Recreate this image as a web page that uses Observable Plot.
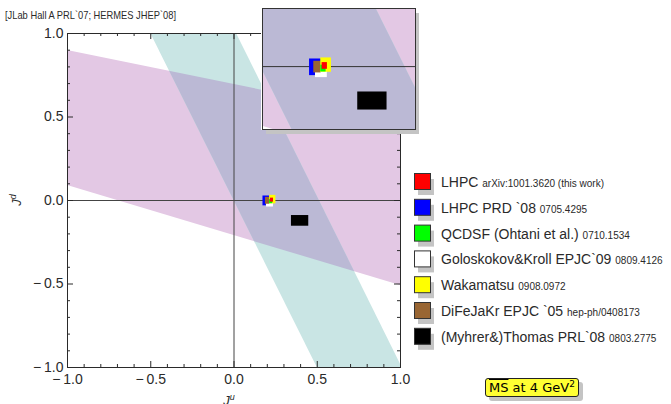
<!DOCTYPE html>
<html>
<head>
<meta charset="utf-8">
<script src="https://cdn.jsdelivr.net/npm/d3@7"></script>
<script src="https://cdn.jsdelivr.net/npm/@observablehq/plot@0.6"></script>
<style>
  body { margin: 0; background: #fff; }
  #chart { position: relative; width: 671px; height: 404px; overflow: hidden; background: #fff; }
  #chart > * { position: absolute; left: 0; top: 0; }
  #ms {
    font-family: "DejaVu Sans", sans-serif; font-size: 13px; line-height: 17px;
    background: #ffff33; border: 1px solid #222; border-radius: 3px;
    padding: 0 3px; box-shadow: 4px 4px 0 #c4c4c4; white-space: nowrap;
  }
  #ms sup { font-size: 9px; line-height: 0; }
</style>
</head>
<body>
<div id="chart"></div>
<script>
// Lattice and model results for total angular momentum of u and d quarks (MS-bar, 4 GeV^2)
const names = [
  "LHPC PRD `08", "Goloskokov&Kroll EPJC`09", "DiFeJaKr EPJC `05",
  "Wakamatsu", "QCDSF (Ohtani et al.)", "LHPC", "(Myhrer&)Thomas PRL`08"
];
const ju  = [0.202, 0.216, 0.202, 0.2327, 0.2232, 0.228, 0.397];
const dju = [0.028, 0.021, 0.013, 0.019, 0.0095, 0.0094, 0.052];
const jd  = [-0.0025, -0.017, -0.0018, 0.0053, -0.007, 0.0023, -0.122];
const djd = [0.0295, 0.022, 0.0206, 0.0255, 0.012, 0.0119, 0.032];
const fills = ["#0000ff", "#ffffff", "#996633", "#ffff00", "#00ff00", "#ff0000", "#000000"];

// Experimental constraint bands: JLab Hall A (shallow) and HERMES (steep)
const jlabJu = [-1, 1], jlabLo = [0.09, -0.509], jlabHi = [0.898, 0.491];
const hermesJd = [1, -1], hermesLo = [-0.5, 0.5], hermesHi = [0.015, 1.01];

// Legend entries, top to bottom
const legendMain = ["LHPC", "LHPC PRD `08", "QCDSF (Ohtani et al.)", "Goloskokov&Kroll EPJC`09",
                    "Wakamatsu", "DiFeJaKr EPJC `05", "(Myhrer&)Thomas PRL`08"];
const legendRef = ["arXiv:1001.3620 (this work)", "0705.4295", "0710.1534", "0809.4126",
                   "0908.0972", "hep-ph/0408173", "0803.2775"];
const legendFill = ["#ff0000", "#0000ff", "#00ff00", "#ffffff", "#ffff00", "#996633", "#000000"];

const majorTicks = [-1, -0.5, 0, 0.5, 1];
const minorTicks = [-0.9, -0.8, -0.7, -0.6, -0.4, -0.3, -0.2, -0.1, 0.1, 0.2, 0.3, 0.4, 0.6, 0.7, 0.8, 0.9];

const pink = "#e3c8e4", cyan = "#c9e5e4", both = "#bbb9d5";
const ink = "#2a2a2a";

const points = names.map((n, i) => ({name: n, ju: ju[i], dju: dju[i], jd: jd[i], djd: djd[i], fill: fills[i]}));
const jlab = jlabJu.map((x, i) => ({ju: x, lo: jlabLo[i], hi: jlabHi[i]}));
const hermes = hermesJd.map((y, i) => ({jd: y, lo: hermesLo[i], hi: hermesHi[i]}));

const fmt = d => (d < 0 ? "\u2212\u2009" : "") + Math.abs(d).toFixed(1);

function bandMarks() {
  return [
    Plot.areaY(jlab, {x: "ju", y1: "lo", y2: "hi", fill: pink, clip: true}),
    Plot.areaX(hermes, {y: "jd", x1: "lo", x2: "hi", fill: cyan, clip: true}),
    Plot.areaX(hermes, {y: "jd", x1: "lo", x2: "hi", fill: both, clip: true})
  ];
}
const rectMark = () => Plot.rect(points, {
  x1: d => d.ju - d.dju, x2: d => d.ju + d.dju,
  y1: d => d.jd - d.djd, y2: d => d.jd + d.djd,
  fill: "fill"
});

// The overlap of the two bands gets its own colour: clip the third area to the first one
function clipOverlap(svg, id) {
  const groups = svg.querySelectorAll('g[aria-label="area"]');
  const src = groups[0].querySelector("path");
  const dst = groups[2].querySelector("path");
  const ns = "http://www.w3.org/2000/svg";
  const defs = document.createElementNS(ns, "defs");
  const cp = document.createElementNS(ns, "clipPath");
  cp.setAttribute("id", id);
  const p = document.createElementNS(ns, "path");
  p.setAttribute("d", src.getAttribute("d"));
  cp.appendChild(p); defs.appendChild(cp); groups[0].appendChild(defs);
  dst.setAttribute("clip-path", `url(#${id})`);
}

const fl = 334, fh = 333; // frame height / width in px
const main = Plot.plot({
  width: 671, height: 404,
  marginLeft: 67, marginRight: 271, marginTop: 33, marginBottom: 37,
  style: {fontFamily: "'Liberation Sans', Arial, sans-serif", fontSize: "14px", color: ink, background: "transparent"},
  x: {domain: [-1, 1], ticks: majorTicks, tickSize: 0, tickPadding: 7, tickFormat: fmt, label: null},
  y: {domain: [-1, 1], ticks: majorTicks, tickSize: 0, tickPadding: 4, tickFormat: fmt, label: null},
  marks: [
    ...bandMarks(),
    Plot.ruleX([0], {stroke: "#444"}),
    Plot.ruleY([0], {stroke: "#444"}),
    // frame ticks pointing inward
    Plot.ruleX(majorTicks, {x: d => d, insetTop: fl - 6, stroke: ink}),
    Plot.ruleX(minorTicks, {x: d => d, insetTop: fl - 3, stroke: ink}),
    Plot.ruleX(majorTicks, {x: d => d, insetBottom: fl - 6, stroke: ink}),
    Plot.ruleX(minorTicks, {x: d => d, insetBottom: fl - 3, stroke: ink}),
    Plot.ruleY(majorTicks, {y: d => d, insetRight: fh - 6, stroke: ink}),
    Plot.ruleY(minorTicks, {y: d => d, insetRight: fh - 3, stroke: ink}),
    Plot.ruleY(majorTicks, {y: d => d, insetLeft: fh - 6, stroke: ink}),
    Plot.ruleY(minorTicks, {y: d => d, insetLeft: fh - 3, stroke: ink}),
    rectMark(),
    Plot.frame({stroke: ink})
  ]
});
clipOverlap(main, "overlap-main");

// Magnified view of the lattice cluster
const insetX = [0.007, 0.55], insetY = [-0.223, 0.206];
const inset = Plot.plot({
  width: 155, height: 123, margin: 1,
  style: {background: "#fff"},
  x: {domain: insetX, axis: null},
  y: {domain: insetY, axis: null},
  marks: [
    ...bandMarks(),
    Plot.ruleY([0], {stroke: "#333"}),
    rectMark(),
    Plot.frame({stroke: "#333"})
  ]
});
clipOverlap(inset, "overlap-inset");

const chart = document.getElementById("chart");
chart.appendChild(main);

const shadow = document.createElement("div");
Object.assign(shadow.style, {left: "266px", top: "13px", width: "153px", height: "121px", background: "#c4c4c4"});
chart.appendChild(shadow);
inset.style.left = "261px"; inset.style.top = "7px";
chart.appendChild(inset);

// Title, axis labels and legend
const over = d3.create("svg").attr("width", 671).attr("height", 404)
  .style("font-family", "'Liberation Sans', Arial, sans-serif").style("fill", ink);
over.append("text").attr("x", 5).attr("y", 19).attr("font-size", 11)
  .attr("textLength", 171).attr("lengthAdjust", "spacingAndGlyphs")
  .text("[JLab Hall A PRL`07; HERMES JHEP`08]");

const ju_ = over.append("text").attr("x", 229).attr("y", 405).attr("text-anchor", "middle")
  .attr("font-size", 13).attr("font-style", "italic");
ju_.append("tspan").text("J");
ju_.append("tspan").attr("dy", -5).attr("font-size", 9).text("u");

const jd_ = over.append("text").attr("transform", "translate(21,200) rotate(-90)")
  .attr("text-anchor", "middle").attr("font-size", 13).attr("font-style", "italic");
jd_.append("tspan").text("J");
jd_.append("tspan").attr("dy", -5).attr("font-size", 9).text("d");

const rowY = i => 182 + i * 25.8;
const lg = over.append("g");
legendMain.forEach((m, i) => {
  const cy = rowY(i);
  lg.append("rect").attr("x", 418).attr("y", cy - 3).attr("width", 16).attr("height", 16).attr("fill", "#c4c4c4");
  lg.append("rect").attr("x", 414.5).attr("y", cy - 8.5).attr("width", 16).attr("height", 16)
    .attr("fill", legendFill[i]).attr("stroke", "#333");
  const t = lg.append("text").attr("x", 441).attr("y", cy + 5).attr("font-size", 14);
  t.append("tspan").text(m + " ");
  t.append("tspan").attr("font-size", 10).text(legendRef[i]);
});
chart.appendChild(over.node());

const ms = document.createElement("div");
ms.id = "ms";
ms.innerHTML = '<span style="text-decoration:overline">MS</span> at 4 GeV<sup>2</sup>';
ms.style.left = "485px"; ms.style.top = "378px";
chart.appendChild(ms);
</script>
</body>
</html>
